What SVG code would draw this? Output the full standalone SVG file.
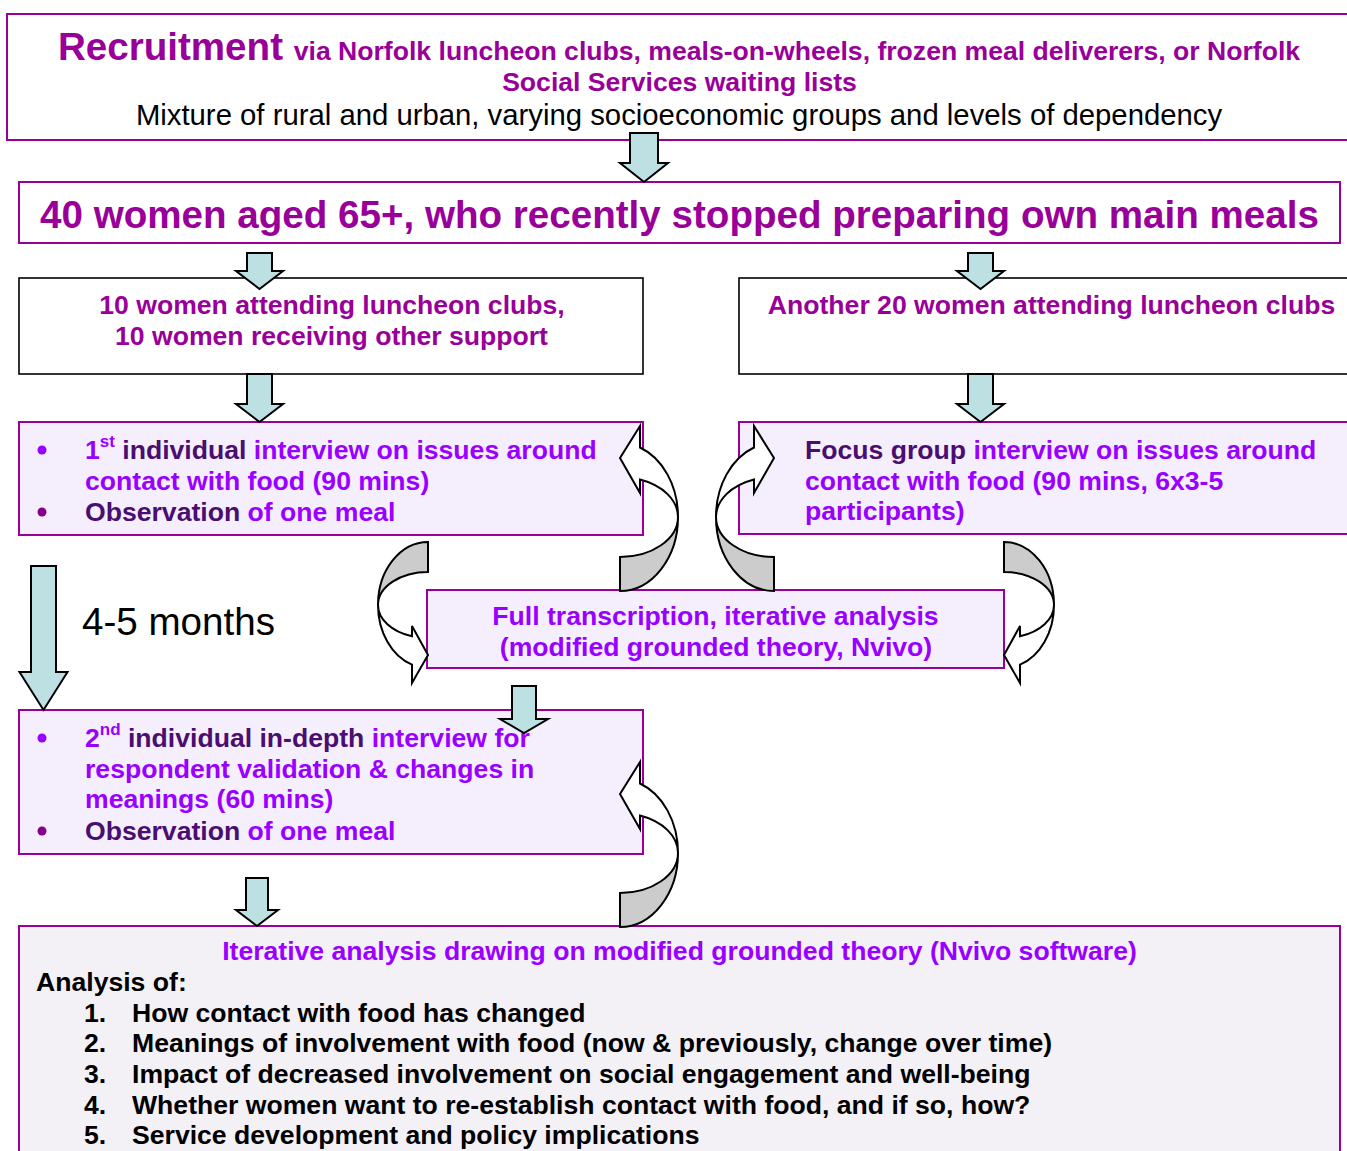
<svg xmlns="http://www.w3.org/2000/svg" width="1347" height="1151" viewBox="0 0 1347 1151">
<style>
text{font-family:"Liberation Sans",Arial,sans-serif;}
.b{font-weight:bold;font-size:26.6px;}
.mag{fill:#990099;}
.vio{fill:#9900ff;}
.dk{fill:#4a0d70;}
.blk{fill:#000;}
.boxP{fill:#fff;stroke:#990099;stroke-width:2;}
.boxK{fill:#fff;stroke:#000;stroke-width:1.6;}
.boxL{fill:#f5eefc;stroke:#990099;stroke-width:2;}
.boxG{fill:#f3f0f6;stroke:#990099;stroke-width:2;}
.blockArrow{fill:#bde0e2;stroke:#000;stroke-width:2;stroke-linejoin:miter;}
.curveW{fill:#fff;stroke:#000;stroke-width:2;stroke-linejoin:miter;}
.curveG{fill:#cccccc;stroke:#000;stroke-width:2;stroke-linejoin:miter;}
</style>
<defs>
<g id="curveA">
<path class="curveG" d="M620,557 A58,40 0 0 0 678,517 A58,74 0 0 1 620,591 Z"/>
<path class="curveW" d="M640,426 L620,458 L640,493 L640,479.5 A58,40 0 0 1 678,517 A58,74 0 0 0 640,447.5 Z"/>
</g>
<g id="curveC">
<path class="curveG" d="M428,542 A50,63 0 0 0 378,605 A50,33 0 0 1 428,572 Z"/>
<path class="curveW" d="M378,605 A50,63 0 0 0 412,664.7 L412,683 L428,655 L412,626 L412,636.3 A50,33 0 0 1 378,605 Z"/>
</g>
</defs>

<g id="recruitment">
<rect class="boxP" x="7" y="14" width="1352" height="126"/>
<text x="679" y="60" text-anchor="middle" class="b mag"><tspan font-size="38.6">Recruitment </tspan>via Norfolk luncheon clubs, meals-on-wheels, frozen meal deliverers, or Norfolk</text>
<text x="679.5" y="91" text-anchor="middle" class="b mag">Social Services waiting lists</text>
<text x="679" y="125" text-anchor="middle" font-size="29.3" class="blk">Mixture of rural and urban, varying socioeconomic groups and levels of dependency</text>
</g>

<g id="forty-women">
<rect class="boxP" x="19" y="182" width="1321" height="61"/>
<text x="679.5" y="228" text-anchor="middle" font-size="38.6" font-weight="bold" class="mag">40 women aged 65+, who recently stopped preparing own main meals</text>
</g>

<g id="group-left">
<rect class="boxK" x="19" y="278" width="624" height="96"/>
<text x="332" y="314" text-anchor="middle" class="b mag">10 women attending luncheon clubs,</text>
<text x="331.5" y="345" text-anchor="middle" class="b mag">10 women receiving other support</text>
</g>

<g id="group-right">
<rect class="boxK" x="739" y="278" width="620" height="96"/>
<text x="1051.5" y="314" text-anchor="middle" class="b mag">Another 20 women attending luncheon clubs</text>
</g>

<g id="first-interview">
<rect class="boxL" x="19" y="422" width="624" height="113"/>
<circle cx="42" cy="450" r="4.5" fill="#9900ff"/>
<text x="85" y="459" class="b"><tspan class="vio">1</tspan><tspan class="vio" font-size="17" dy="-12">st</tspan><tspan class="dk" dy="12"> individual</tspan><tspan class="vio"> interview on issues around</tspan></text>
<text x="85" y="490" class="b vio">contact with food (90 mins)</text>
<circle cx="42" cy="512" r="4.5" fill="#880088"/>
<text x="85" y="521" class="b"><tspan class="dk">Observation</tspan><tspan class="vio"> of one meal</tspan></text>
</g>

<g id="focus-group">
<rect class="boxL" x="739" y="422" width="620" height="112"/>
<text x="805" y="459" class="b"><tspan class="dk">Focus group</tspan><tspan class="vio"> interview on issues around</tspan></text>
<text x="805" y="490" class="b vio">contact with food (90 mins, 6x3-5</text>
<text x="805" y="520" class="b vio">participants)</text>
</g>

<g id="transcription">
<rect class="boxL" x="427" y="590" width="577" height="78"/>
<text x="715.5" y="625" text-anchor="middle" class="b vio">Full transcription, iterative analysis</text>
<text x="716" y="656" text-anchor="middle" class="b vio">(modified grounded theory, Nvivo)</text>
</g>

<g id="interval-label">
<text x="82" y="635" font-size="38.6" class="blk">4-5 months</text>
</g>

<g id="second-interview">
<rect class="boxL" x="19" y="710" width="624" height="144"/>
<circle cx="42" cy="738" r="4.5" fill="#9900ff"/>
<text x="85" y="747" class="b"><tspan class="vio">2</tspan><tspan class="vio" font-size="17" dy="-12">nd</tspan><tspan class="dk" dy="12"> individual in-depth</tspan><tspan class="vio"> interview for</tspan></text>
<text x="85" y="778" class="b vio">respondent validation &amp; changes in</text>
<text x="85" y="808" class="b vio">meanings (60 mins)</text>
<circle cx="42" cy="831" r="4.5" fill="#880088"/>
<text x="85" y="840" class="b"><tspan class="dk">Observation</tspan><tspan class="vio"> of one meal</tspan></text>
</g>

<g id="analysis">
<rect class="boxG" x="19" y="926" width="1321" height="240"/>
<text x="679.5" y="960" text-anchor="middle" class="b vio">Iterative analysis drawing on modified grounded theory (Nvivo software)</text>
<text x="36" y="991" class="b blk">Analysis of:</text>
<text x="84" y="1022" class="b blk">1.</text>
<text x="132" y="1022" class="b blk">How contact with food has changed</text>
<text x="84" y="1052" class="b blk">2.</text>
<text x="132" y="1052" class="b blk">Meanings of involvement with food (now &amp; previously, change over time)</text>
<text x="84" y="1083" class="b blk">3.</text>
<text x="132" y="1083" class="b blk">Impact of decreased involvement on social engagement and well-being</text>
<text x="84" y="1114" class="b blk">4.</text>
<text x="132" y="1114" class="b blk">Whether women want to re-establish contact with food, and if so, how?</text>
<text x="84" y="1144" class="b blk">5.</text>
<text x="132" y="1144" class="b blk">Service development and policy implications</text>
</g>

<g id="connectors">
<path class="blockArrow" d="M630,133 H658 V163 H668 L644,182 L620,163 H630 Z"/>
<path class="blockArrow" d="M247,253 H272 V271 H283 L259.5,289 L236,271 H247 Z"/>
<path class="blockArrow" d="M968,253 H993 V271 H1004 L980.5,289 L957,271 H968 Z"/>
<path class="blockArrow" d="M247,374 H272 V404 H283 L259.5,422 L236,404 H247 Z"/>
<path class="blockArrow" d="M968,374 H993 V404 H1004 L980.5,422 L957,404 H968 Z"/>
<path class="blockArrow" d="M31,566 H56 V672 H67.5 L43.5,710 L19.5,672 H31 Z"/>
<path class="blockArrow" d="M512,686 H536 V719 H548 L524,733 L500,719 H512 Z"/>
<path class="blockArrow" d="M246,878 H268 V910 H278 L257,926 L236,910 H246 Z"/>
<use href="#curveA"/>
<use href="#curveA" transform="matrix(-1 0 0 1 1394 0)"/>
<use href="#curveC"/>
<use href="#curveC" transform="matrix(-1 0 0 1 1432 0)"/>
<use href="#curveA" transform="translate(0 336)"/>
</g>
</svg>
